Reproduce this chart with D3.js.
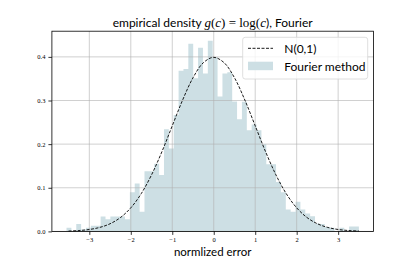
<!DOCTYPE html>
<html><head><meta charset="utf-8">
<script src="https://cdn.jsdelivr.net/npm/d3@7"></script>
<style>
html,body{margin:0;padding:0;background:#fff;}
svg{display:block;}
</style></head>
<body>
<svg id="c" width="415" height="260"></svg>
<script>
// ---- data ----
const histRange = [-3.55, 3.50];
const densities = [
  0.0085, 0.0, 0.017, 0.0043, 0.0085, 0.013, 0.013, 0.034, 0.028, 0.034,
  0.034, 0.034, 0.028, 0.090, 0.110, 0.045, 0.138, 0.138, 0.155, 0.129,
  0.234, 0.190, 0.267, 0.368, 0.372, 0.430, 0.351, 0.421, 0.362, 0.437,
  0.399, 0.309, 0.362, 0.365, 0.298, 0.257, 0.297, 0.232, 0.245, 0.232,
  0.200, 0.154, 0.154, 0.113, 0.090, 0.050, 0.045, 0.068, 0.050, 0.041,
  0.035, 0.018, 0.017, 0.010, 0.0085, 0.0, 0.0085, 0.0, 0.011, 0.011
];
const normX = [-3.5,-3.25,-3,-2.75,-2.5,-2.25,-2,-1.75,-1.5,-1.25,-1,-0.75,-0.5,-0.25,0,
               0.25,0.5,0.75,1,1.25,1.5,1.75,2,2.25,2.5,2.75,3,3.25,3.5];
const normY = [0.0009,0.0020,0.0044,0.0091,0.0175,0.0317,0.0540,0.0863,0.1295,0.1826,0.2420,0.3011,0.3521,0.3867,0.3989,
               0.3867,0.3521,0.3011,0.2420,0.1826,0.1295,0.0863,0.0540,0.0317,0.0175,0.0091,0.0044,0.0020,0.0009];
const xTicks = [-3,-2,-1,0,1,2,3];
const yTicks = [0.0,0.1,0.2,0.3,0.4];
const titleParts = ["empirical density ", "g", "(", "c", ") = log(", "c", "), Fourier"];
const xLabel = "normlized error";
const legendLabels = ["N(0,1)", "Fourier method"];

// ---- layout ----
const L = 51.9, R = 373.5, T = 31.2, B = 231.4;
const svg = d3.select("#c");
const x = d3.scaleLinear().domain([-3.9025, 3.8525]).range([L, R]);
const yMax = d3.max(densities) * 1.05;
const y = d3.scaleLinear().domain([0, yMax]).range([B, T]);
const nb = densities.length;
const bw = (histRange[1] - histRange[0]) / nb;
const bins = densities.map((d, i) => ({x0: histRange[0] + i * bw, x1: histRange[0] + (i + 1) * bw, v: d}));

const sans = "Lato, 'Open Sans', sans-serif";
const serif = "'Liberation Serif', 'DejaVu Serif', serif";
const barColor = "#cddfe4";

// bars as one step path (no seams between adjacent bars)
const p = d3.path();
p.moveTo(x(bins[0].x0), B);
bins.forEach(b => { p.lineTo(x(b.x0), y(b.v)); p.lineTo(x(b.x1), y(b.v)); });
p.lineTo(x(bins[nb - 1].x1), B);
p.closePath();
svg.append("path").attr("d", p.toString()).attr("fill", barColor);

// grid (on top, semi-transparent)
const grid = svg.append("g").attr("stroke", "#b0b0b0").attr("stroke-width", 0.8).attr("stroke-opacity", 0.75);
grid.selectAll(".gx").data(xTicks).join("line")
  .attr("x1", d => x(d)).attr("x2", d => x(d)).attr("y1", T).attr("y2", B);
grid.selectAll(".gy").data(yTicks).join("line")
  .attr("x1", L).attr("x2", R).attr("y1", d => y(d)).attr("y2", d => y(d));

// normal curve
const line = d3.line().x((d, i) => x(normX[i])).y(d => y(d)).curve(d3.curveCatmullRom);
svg.append("path").attr("d", line(normY)).attr("fill", "none")
  .attr("stroke", "#000").attr("stroke-width", 0.9).attr("stroke-dasharray", "3,1.5");

// axes
const xAxis = d3.axisBottom(x).tickValues(xTicks).tickSizeOuter(0).tickSize(3.5).tickPadding(2.5)
  .tickFormat(d => d < 0 ? "\u2212" + Math.abs(d) : String(d));
const gx = svg.append("g").attr("transform", `translate(0,${B})`).call(xAxis);
gx.select(".domain").remove();
gx.selectAll("line").attr("stroke", "#000").attr("stroke-width", 0.8);
gx.selectAll("text").attr("font-family", serif).attr("font-size", 6.5).attr("fill", "#000");

const yAxis = d3.axisLeft(y).tickValues(yTicks).tickSizeOuter(0).tickSize(3.5).tickPadding(3)
  .tickFormat(d3.format(".1f"));
const gy = svg.append("g").attr("transform", `translate(${L},0)`).call(yAxis);
gy.select(".domain").remove();
gy.selectAll("line").attr("stroke", "#000").attr("stroke-width", 0.8);
gy.selectAll("text").attr("font-family", serif).attr("font-size", 6.5).attr("fill", "#000");

// frame
svg.append("rect").attr("x", L).attr("y", T).attr("width", R - L).attr("height", B - T)
  .attr("fill", "none").attr("stroke", "#000").attr("stroke-width", 0.8);

// title
const title = svg.append("text").attr("x", (L + R) / 2).attr("y", 26.5)
  .attr("text-anchor", "middle").attr("font-size", 12).attr("font-family", sans).attr("fill", "#000");
const styles = [
  {f: sans, s: "normal"}, {f: serif, s: "italic"}, {f: serif, s: "normal"}, {f: serif, s: "italic"},
  {f: serif, s: "normal"}, {f: serif, s: "italic"}, {f: sans, s: "normal"}
];
titleParts.forEach((t, i) => {
  title.append("tspan").attr("font-family", styles[i].f).attr("font-style", styles[i].s)
    .attr("font-size", styles[i].f === serif ? 13 : 12)
    .style("white-space", "pre").text(t);
});

// x label
svg.append("text").attr("x", (L + R) / 2).attr("y", 255.5).attr("text-anchor", "middle")
  .attr("font-family", sans).attr("font-size", 11.5).attr("fill", "#000").text(xLabel);

// legend
const lg = svg.append("g");
lg.append("rect").attr("x", 242.7).attr("y", 37.3).attr("width", 125).attr("height", 41.7)
  .attr("rx", 2.5).attr("fill", "#fff").attr("fill-opacity", 0.8)
  .attr("stroke", "#d6d6d6").attr("stroke-width", 0.8);
lg.append("line").attr("x1", 248).attr("x2", 273).attr("y1", 48.3).attr("y2", 48.3)
  .attr("stroke", "#000").attr("stroke-width", 0.9).attr("stroke-dasharray", "3,1.5");
lg.append("rect").attr("x", 248).attr("y", 61.7).attr("width", 25).attr("height", 8.5).attr("fill", barColor);
lg.selectAll("text.lt").data(legendLabels).join("text")
  .attr("x", 284.3).attr("y", (d, i) => i === 0 ? 52.6 : 70.6)
  .attr("font-family", sans).attr("font-size", 12).attr("fill", "#000").text(d => d);
</script>
</body></html>
